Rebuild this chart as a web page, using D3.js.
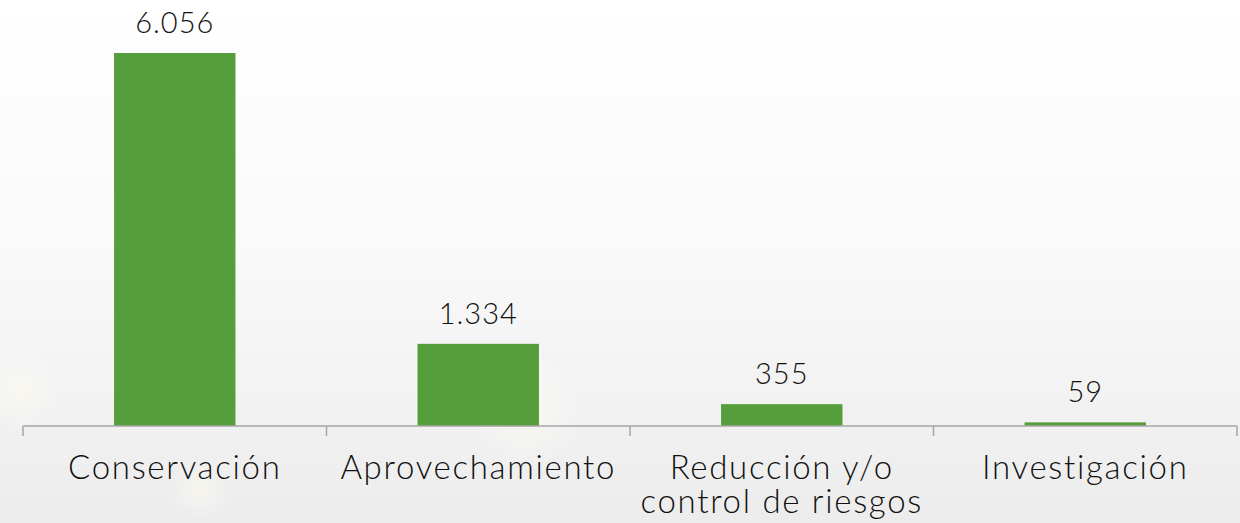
<!DOCTYPE html>
<html>
<head>
<meta charset="utf-8">
<script src="https://cdn.jsdelivr.net/npm/d3@7"></script>
<style>
  html, body { margin: 0; padding: 0; }
  body { width: 1240px; height: 523px; overflow: hidden; }
</style>
</head>
<body>
<div id="chart"></div>
<script>
const width = 1240;
const height = 523;

const categories = ["Conservación", "Aprovechamiento", "Reducción y/o\ncontrol de riesgos", "Investigación"];
const values = [6056, 1334, 355, 59];

const barColor = "#559e3b";
const axisColor = "#a6a6a6";
const fontFamily = "Lato, 'Noto Sans', sans-serif";

const esFormat = d3.formatLocale({ decimal: ",", thousands: ".", grouping: [3], currency: ["", ""] }).format(",d");

const svg = d3.select("#chart")
    .append("svg")
    .attr("width", width)
    .attr("height", height);

// background: white fading to a light grey, a few soft glows
const defs = svg.append("defs");
const bg = defs.append("linearGradient")
    .attr("id", "bg")
    .attr("x1", 0).attr("y1", 0).attr("x2", 0).attr("y2", 1);
bg.append("stop").attr("offset", "0%").attr("stop-color", "#ffffff");
bg.append("stop").attr("offset", "45%").attr("stop-color", "#fafafa");
bg.append("stop").attr("offset", "100%").attr("stop-color", "#ececec");

const glow = defs.append("radialGradient").attr("id", "glow");
glow.append("stop").attr("offset", "0%").attr("stop-color", "#fffbe8").attr("stop-opacity", 0.5);
glow.append("stop").attr("offset", "100%").attr("stop-color", "#ffffff").attr("stop-opacity", 0);

svg.append("rect")
    .attr("width", width)
    .attr("height", height)
    .attr("fill", "url(#bg)");

[[525, 410, 60], [20, 390, 40], [200, 490, 30]].forEach(g => {
    svg.append("circle")
        .attr("cx", g[0]).attr("cy", g[1]).attr("r", g[2])
        .attr("fill", "url(#glow)");
});

const x = d3.scaleBand()
    .domain(categories)
    .range([23, 1237])
    .padding(0);

const y = d3.scaleLinear()
    .domain([0, 6056])
    .range([426, 53]);

const barWidth = x.bandwidth() * 0.4;

svg.selectAll("rect.bar")
    .data(values)
    .join("rect")
    .attr("class", "bar")
    .attr("x", (d, i) => x(categories[i]) + (x.bandwidth() - barWidth) / 2)
    .attr("y", d => y(d))
    .attr("width", barWidth)
    .attr("height", d => y(0) - y(d))
    .attr("fill", barColor);

// category axis with ticks on the band edges
const axis = svg.append("g").attr("class", "axis");
axis.append("line")
    .attr("x1", x.range()[0]).attr("x2", x.range()[1])
    .attr("y1", y(0)).attr("y2", y(0))
    .attr("stroke", axisColor)
    .attr("stroke-width", 1.5);

const edges = categories.map(c => x(c)).concat([x.range()[1]]);
axis.selectAll("line.tick")
    .data(edges)
    .join("line")
    .attr("class", "tick")
    .attr("x1", d => d).attr("x2", d => d)
    .attr("y1", y(0)).attr("y2", y(0) + 10)
    .attr("stroke", axisColor)
    .attr("stroke-width", 1.5);

const labels = axis.selectAll("text")
    .data(categories)
    .join("text")
    .attr("x", d => x(d) + x.bandwidth() / 2)
    .attr("y", y(0) + 53)
    .attr("text-anchor", "middle")
    .attr("font-family", fontFamily)
    .attr("font-weight", 300)
    .attr("font-size", 33)
    .attr("letter-spacing", 1.7)
    .attr("fill", "#111");

labels.selectAll("tspan")
    .data(d => d.split("\n"))
    .join("tspan")
    .attr("x", function () { return d3.select(this.parentNode).attr("x"); })
    .attr("dy", (d, i) => i === 0 ? 0 : 34)
    .text(d => d);

// value labels above the bars
svg.selectAll("text.value")
    .data(values)
    .join("text")
    .attr("class", "value")
    .attr("x", (d, i) => x(categories[i]) + x.bandwidth() / 2)
    .attr("y", d => y(d) - 20)
    .attr("text-anchor", "middle")
    .attr("font-family", fontFamily)
    .attr("font-weight", 300)
    .attr("font-size", 29)
    .attr("letter-spacing", 1)
    .attr("fill", "#111")
    .text(d => esFormat(d));
</script>
</body>
</html>
